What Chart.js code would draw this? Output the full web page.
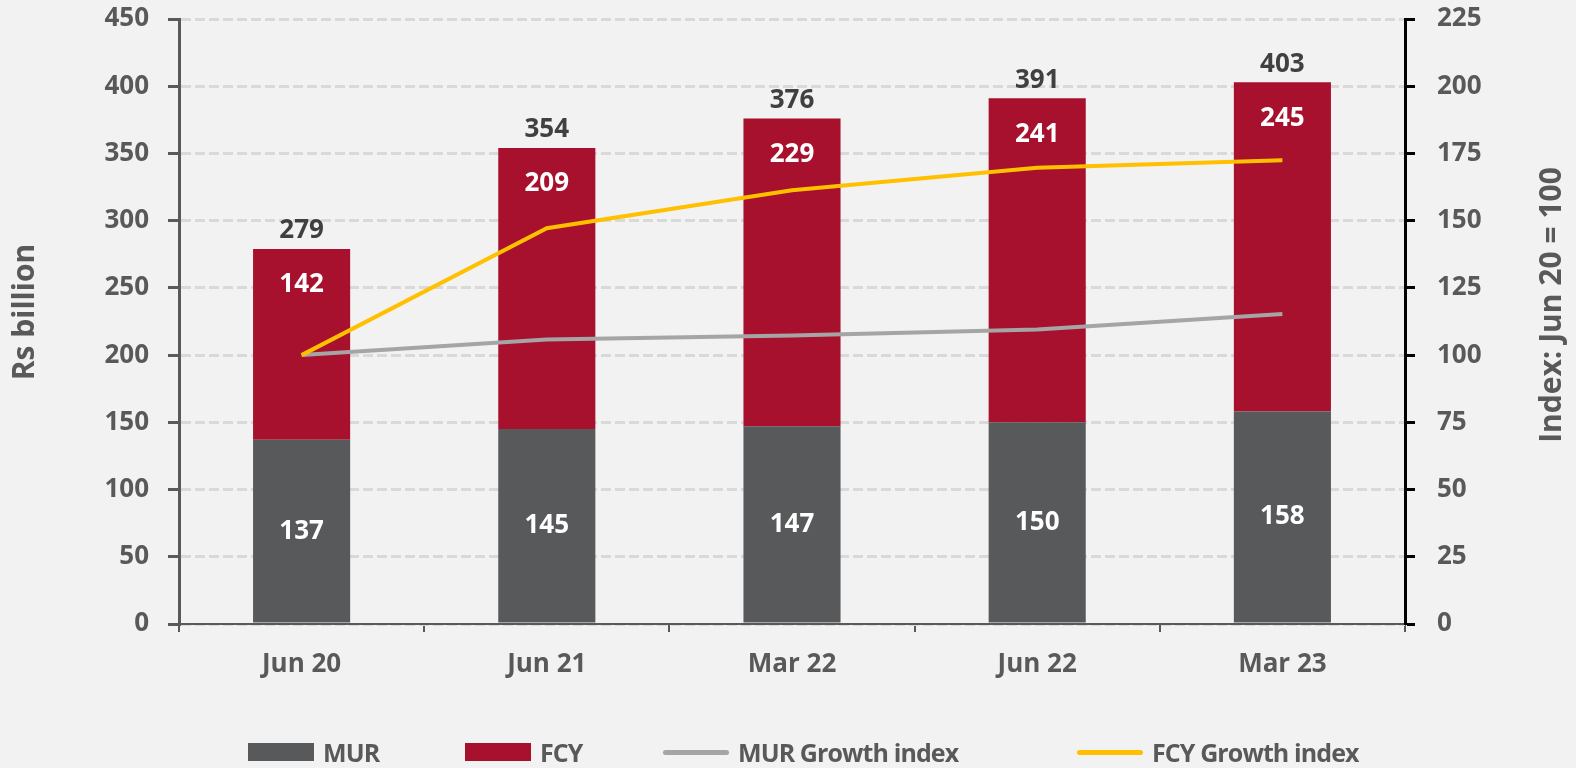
<!DOCTYPE html>
<html>
<head>
<meta charset="utf-8">
<script src="https://cdn.jsdelivr.net/npm/chart.js@4.4.1/dist/chart.umd.min.js"></script>
<style>
  html, body { margin: 0; padding: 0; background: #f2f2f2; }
  #wrap { position: relative; width: 1576px; height: 768px; }
  #c { position: absolute; left: 0; top: 0; }
  .lg { position: absolute; top: 739px; height: 26px; display: flex; align-items: center;
        font-family: 'Open Sans', sans-serif; font-weight: 700; font-size: 25px; color: #595959; white-space: nowrap; letter-spacing: -0.9px; }
  .sw { display: inline-block; margin-right: 9px; }
</style>
</head>
<body>
<div id="wrap">
  <canvas id="c" width="1576" height="768"></canvas>
  <div id="legend"></div>
</div>
<script>
const categories = ['Jun 20', 'Jun 21', 'Mar 22', 'Jun 22', 'Mar 23'];
const murValues = [137, 145, 147, 150, 158];
const fcyValues = [142, 209, 229, 241, 245];
const totalValues = [279, 354, 376, 391, 403];
const murIndex = [100, 105.8, 107.3, 109.5, 115.3];
const fcyIndex = [100, 147.2, 161.3, 169.7, 172.5];
const leftTicks = [0, 50, 100, 150, 200, 250, 300, 350, 400, 450];
const rightTicks = [0, 25, 50, 75, 100, 125, 150, 175, 200, 225];

const FONT = 'Open Sans';
const FS = 26;
const TICK = '#595959';

const labelPlugin = {
  id: 'labels',
  afterDatasetsDraw(chart) {
    const ctx = chart.ctx;
    ctx.save();
    ctx.font = `700 ${FS}px "${FONT}"`;
    ctx.textAlign = 'center';
    ctx.textBaseline = 'middle';
    const murMeta = chart.getDatasetMeta(2);
    const fcyMeta = chart.getDatasetMeta(3);
    murMeta.data.forEach((el, i) => {
      ctx.fillStyle = '#ffffff';
      ctx.fillText(String(murValues[i]), el.x, (el.y + el.base) / 2);
    });
    fcyMeta.data.forEach((el, i) => {
      ctx.fillStyle = '#ffffff';
      ctx.fillText(String(fcyValues[i]), el.x, el.y + 36);
      ctx.fillStyle = '#404040';
      ctx.fillText(String(totalValues[i]), el.x, el.y - 18);
    });
    ctx.restore();
  },
  afterDraw(chart) {
    const ctx = chart.ctx;
    const title = (text, x, y) => {
      ctx.save();
      ctx.font = `700 30px "${FONT}"`;
      ctx.fillStyle = TICK;
      ctx.textAlign = 'center';
      ctx.textBaseline = 'middle';
      ctx.translate(x, y);
      ctx.rotate(-Math.PI / 2);
      ctx.fillText(text, 0, 0);
      ctx.restore();
    };
    title('Rs billion', 25, 312);
    title('Index: Jun 20 = 100', 1552, 305);
  }
};

const tickFont = { family: FONT, weight: '700', size: FS };
const noPad = s => { s.paddingTop = 0; s.paddingBottom = 0; };

const chart = new Chart(document.getElementById('c'), {
  type: 'bar',
  data: {
    labels: categories,
    datasets: [
      { type: 'line', label: 'FCY Growth index', data: fcyIndex, yAxisID: 'y1', borderColor: '#ffc000',
        backgroundColor: '#ffc000', borderWidth: 4, pointRadius: 0, tension: 0, order: 0 },
      { type: 'line', label: 'MUR Growth index', data: murIndex, yAxisID: 'y1', borderColor: '#a5a5a5',
        backgroundColor: '#a5a5a5', borderWidth: 4, pointRadius: 0, tension: 0, order: 0 },
      { label: 'MUR', data: murValues, backgroundColor: '#58595b', yAxisID: 'y', stack: 's', order: 1,
        categoryPercentage: 1, barPercentage: 0.396 },
      { label: 'FCY', data: fcyValues, backgroundColor: '#a7112d', yAxisID: 'y', stack: 's', order: 1,
        categoryPercentage: 1, barPercentage: 0.396 }
    ]
  },
  options: {
    responsive: false,
    animation: false,
    layout: { padding: { top: 19, bottom: 0, left: 0, right: 0 } },
    plugins: { legend: { display: false }, tooltip: { enabled: false } },
    scales: {
      x: {
        stacked: true,
        offset: true,
        grid: { offset: true, drawOnChartArea: false, drawTicks: true, tickLength: 8, color: TICK, lineWidth: 2 },
        border: { color: TICK, width: 2 },
        ticks: { color: TICK, font: tickFont, padding: 17 },
        afterFit: s => { s.height = 144; s.paddingLeft = 0; s.paddingRight = 0; }
      },
      y: {
        stacked: true,
        position: 'left',
        min: 0, max: 450,
        afterBuildTicks: s => { s.ticks = leftTicks.map(v => ({ value: v })); },
        grid: { color: '#d9d9d9', lineWidth: 3, tickColor: TICK, tickLength: 11, tickWidth: 3 },
        border: { color: TICK, width: 3, dash: [10, 4] },
        ticks: { color: TICK, font: tickFont, padding: 19 },
        afterFit: s => { s.width = 179; noPad(s); }
      },
      y1: {
        position: 'right',
        min: 0, max: 225,
        afterBuildTicks: s => { s.ticks = rightTicks.map(v => ({ value: v })); },
        grid: { drawOnChartArea: false, tickColor: '#000000', tickLength: 10, tickWidth: 3 },
        border: { color: '#000000', width: 3 },
        ticks: { color: TICK, font: tickFont, padding: 22 },
        afterFit: s => { s.width = 171; noPad(s); }
      }
    }
  },
  plugins: [labelPlugin]
});

// HTML legend built from the chart's datasets
const legendOrder = [2, 3, 1, 0];
const legendLeft = [248, 465, 663, 1077];
const legendEl = document.getElementById('legend');
legendOrder.forEach((di, k) => {
  const ds = chart.data.datasets[di];
  const item = document.createElement('div');
  item.className = 'lg';
  item.style.left = legendLeft[k] + 'px';
  const sw = document.createElement('span');
  sw.className = 'sw';
  if (ds.type === 'line') {
    sw.style.width = '66px'; sw.style.height = '5px'; sw.style.borderRadius = '3px';
    sw.style.background = ds.borderColor;
  } else {
    sw.style.width = '66px'; sw.style.height = '18px';
    sw.style.background = ds.backgroundColor;
  }
  item.appendChild(sw);
  const t = document.createElement('span');
  t.textContent = ds.label;
  item.appendChild(t);
  legendEl.appendChild(item);
});
</script>
</body>
</html>
